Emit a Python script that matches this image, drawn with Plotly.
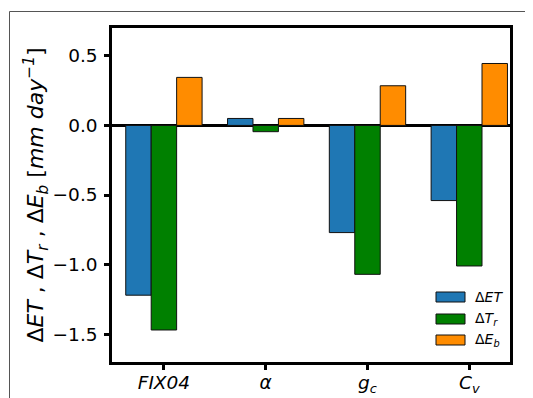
import plotly.graph_objects as go

categories = ["<i>FIX04</i>", "<i>α</i>", "<i>g<sub>c</sub></i>", "<i>C<sub>v</sub></i>"]
series_names = ["Δ<i>ET</i>", "Δ<i>T<sub>r</sub></i>", "Δ<i>E<sub>b</sub></i>"]
d_et = [-1.22, 0.05, -0.77, -0.54]
d_tr = [-1.47, -0.045, -1.07, -1.01]
d_eb = [0.345, 0.05, 0.285, 0.445]
colors = ["#1f77b4", "#008000", "#ff8c00"]
ytick_vals = [-1.5, -1.0, -0.5, 0.0, 0.5]
ytick_text = ["−1.5", "−1.0", "−0.5", "0.0", "0.5"]

FONT = "DejaVu Sans"
fig = go.Figure()
for name, vals, col in zip(series_names, [d_et, d_tr, d_eb], colors):
    fig.add_trace(go.Bar(x=categories, y=vals, name=name, marker=dict(color=col, line=dict(color="#111", width=1)),
                         showlegend=False))

OFF = 8  # page body margin
W, H = 533 - OFF, 398 - OFF
L, R, T, B = 112 - OFF, 23, 28 - OFF, 36
pw, ph = W - L - R, H - T - B

def px(x):  # window pixel -> paper
    return (x - OFF - L) / pw

def py(y):
    return (H - B - (y - OFF)) / ph

shapes = []
ann = []
# outer figure frame (thin gray)
shapes.append(dict(type="line", xref="paper", yref="paper", x0=px(9.5), x1=px(545), y0=py(11.5), y1=py(11.5),
                   line=dict(color="#555", width=1)))
shapes.append(dict(type="line", xref="paper", yref="paper", x0=px(9.5), x1=px(9.5), y0=py(11.5), y1=py(410),
                   line=dict(color="#555", width=1)))
# custom legend
leg_y = [297, 319, 340]
for name, col, yy in zip(series_names, colors, leg_y):
    shapes.append(dict(type="rect", xref="paper", yref="paper", x0=px(436), x1=px(465), y0=py(yy + 5), y1=py(yy - 5),
                       fillcolor=col, line=dict(color="#111", width=1)))
    ann.append(dict(xref="paper", yref="paper", x=px(473), y=py(yy), text=name, showarrow=False,
                    xanchor="left", yanchor="middle", font=dict(family=FONT, size=14, color="#000")))

fig.update_layout(
    width=W, height=H,
    margin=dict(l=L, r=R, t=T, b=B, pad=0),
    paper_bgcolor="white", plot_bgcolor="white",
    barmode="group", bargap=0.25, bargroupgap=0,
    font=dict(family=FONT, size=18.5, color="#000"),
    shapes=shapes, annotations=ann,
    xaxis=dict(range=[-0.51, 3.4], showline=True, linecolor="#000", linewidth=2.5, mirror=True,
               ticks="outside", ticklen=5, tickwidth=2.5, tickcolor="#000", showgrid=False,
               ticklabelstandoff=-3,
               automargin=False, tickfont=dict(family=FONT, size=18.5)),
    yaxis=dict(range=[-1.70, 0.70], showline=True, linecolor="#000", linewidth=2.5, mirror=True,
               ticks="outside", ticklen=5, tickwidth=2.5, tickcolor="#000", showgrid=False,
               tickvals=ytick_vals, ticktext=ytick_text, automargin=False, ticklabelstandoff=3,
               zeroline=True, zerolinecolor="#000", zerolinewidth=2.5,
               tickfont=dict(family=FONT, size=18.5),
               title=dict(text="Δ<i>ET</i> , Δ<i>T<sub>r</sub></i> , Δ<i>E<sub>b</sub></i> [<i>mm day<sup>−1</sup></i>]",
                          font=dict(family=FONT, size=22), standoff=3)),
)
fig.write_html("out.html")
